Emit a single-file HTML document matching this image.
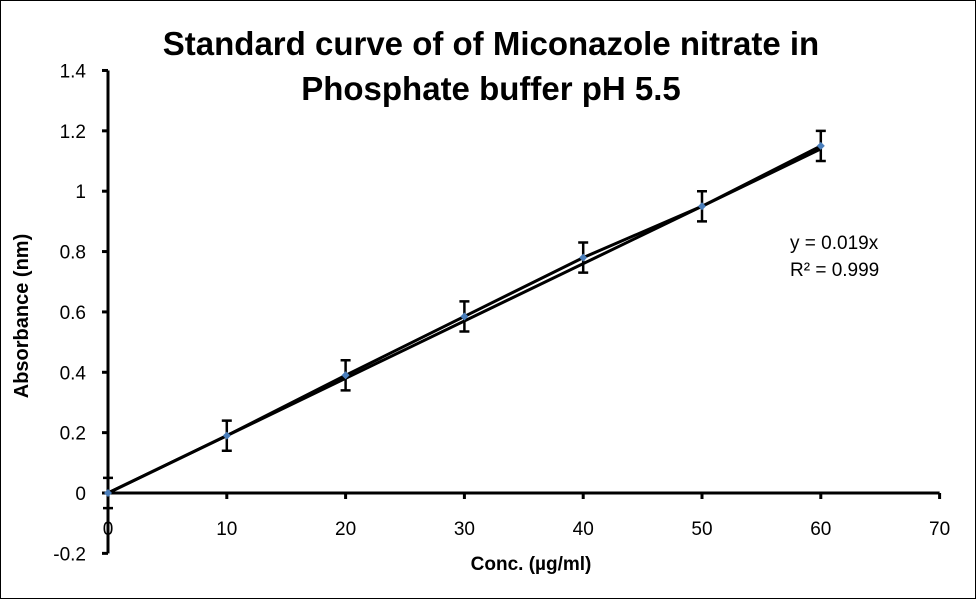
<!DOCTYPE html>
<html><head><meta charset="utf-8"><style>
body{margin:0;background:#fff}
svg{display:block;font-family:"Liberation Sans",sans-serif}
</style></head><body>
<svg id="chart" width="977" height="600">
<rect x="0.5" y="0.5" width="975" height="598" fill="#fff" stroke="#000"/>
<text x="491" y="55" text-anchor="middle" font-size="33" font-weight="bold">Standard  curve of  of Miconazole nitrate in</text>
<text x="491" y="100" text-anchor="middle" font-size="33" font-weight="bold">Phosphate buffer pH 5.5</text>
<text x="531" y="570" text-anchor="middle" font-size="19" font-weight="bold">Conc. (µg/ml)</text>
<text transform="translate(28,316) rotate(-90)" text-anchor="middle" font-size="20" font-weight="bold">Absorbance (nm)</text>
<text x="790" y="249" font-size="19">y = 0.019x</text>
<text x="790" y="276" font-size="19">R² = 0.999</text>
<g id="axes"></g><g id="marks"></g>
</svg>
<script>
const xs=[0,10,20,30,40,50,60];
const ys=[0,0.19,0.39,0.585,0.78,0.95,1.15];
const errs=[0.05,0.05,0.05,0.05,0.05,0.05,0.05];
const xTicks=[0,10,20,30,40,50,60,70];
const yTicks=[-0.2,0,0.2,0.4,0.6,0.8,1,1.2,1.4];
const slope=0.019;
const NS="http://www.w3.org/2000/svg";
const X=v=>108+v*11.88, Y=v=>493-v*301.8;
function mk(t,a,p){const e=document.createElementNS(NS,t);for(const k in a)e.setAttribute(k,a[k]);p.appendChild(e);return e;}
const ax=document.getElementById('axes'),mg=document.getElementById('marks');
let e=mk('line',{x1:X(0),y1:Y(-0.2),x2:X(0),y2:Y(1.4),stroke:'#000','stroke-width':3},ax);

e=mk('line',{x1:X(0),y1:Y(0),x2:X(70),y2:Y(0),stroke:'#000','stroke-width':3},ax);

yTicks.forEach(v=>{
 e=mk('line',{x1:X(0)-6,y1:Y(v),x2:X(0),y2:Y(v),stroke:'#000','stroke-width':3},ax);
 
 e=mk('text',{x:X(0)-22,y:Y(v)+7,'text-anchor':'end','font-size':19},ax);e.textContent=String(v);
 
});
xTicks.forEach(v=>{
 e=mk('line',{x1:X(v),y1:Y(0),x2:X(v),y2:Y(0)+6,stroke:'#000','stroke-width':3},ax);
 
 e=mk('text',{x:X(v),y:Y(0)+42,'text-anchor':'middle','font-size':19},ax);e.textContent=String(v);
 
});
e=mk('polyline',{points:xs.map((x,i)=>X(x)+','+Y(ys[i])).join(' '),fill:'none',stroke:'#000','stroke-width':3},mg);

e=mk('line',{x1:X(0),y1:Y(0),x2:X(xs[xs.length-1]),y2:Y(slope*xs[xs.length-1]),stroke:'#000','stroke-width':3},mg);

xs.forEach((x,i)=>{
 const cx=X(x),t=Y(ys[i]+errs[i]),b=Y(ys[i]-errs[i]);
 e=mk('path',{d:`M${cx},${t}V${b}M${cx-5},${t}H${cx+5}M${cx-5},${b}H${cx+5}`,stroke:'#000','stroke-width':2.5,fill:'none'},mg);
 
 const cy=Y(ys[i]);
 e=mk('path',{d:`M${cx-4},${cy}L${cx},${cy-4}L${cx+4},${cy}L${cx},${cy+4}Z`,fill:'#4a7ebb'},mg);
 
});
</script>
</body></html>
